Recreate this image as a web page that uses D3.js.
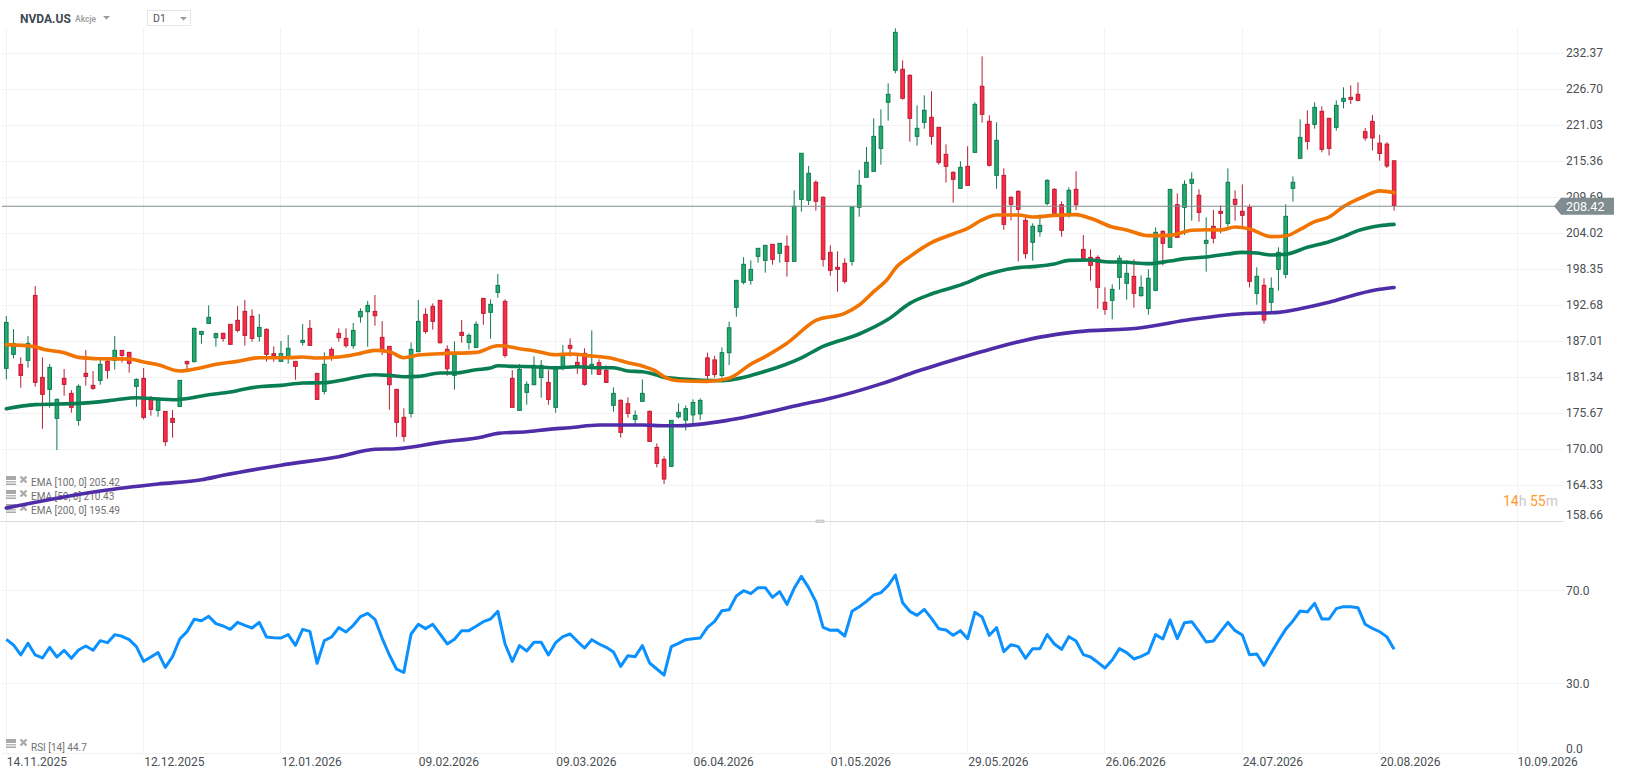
<!DOCTYPE html>
<html><head><meta charset="utf-8"><title>NVDA.US</title>
<script src="https://cdnjs.cloudflare.com/ajax/libs/d3/7.8.5/d3.min.js"></script>
<style>html,body{margin:0;padding:0;background:#fff;overflow:hidden}svg{display:block;font-family:Roboto,sans-serif}</style>
</head><body><svg id="c" width="1626" height="779"></svg>
<script>
const opens=[182.75,184.95,183.38,184.01,194.24,181.33,179.44,174.87,181.17,178.81,
174.56,181.96,180.07,180.86,183.85,184.01,185.58,185.27,179.91,181.17,
177.86,176.13,175.97,174.87,176.76,183.85,183.80,188.10,189.83,187.58,
188.26,189.68,190.31,191.72,190.94,187.79,188.89,185.06,183.85,184.32,
183.85,186.84,189.05,181.96,179.12,185.74,188.26,187.47,186.32,190.88,
191.67,191.72,187.63,186.21,179.44,175.03,175.66,185.37,191.25,192.51,
193.46,185.74,181.64,188.42,186.84,186.05,193.77,191.57,194.72,193.30,
181.17,176.13,178.97,180.17,181.33,180.54,176.61,182.90,186.37,183.69,
185.11,182.75,183.64,182.43,176.92,177.71,177.18,174.71,177.55,175.97,
170.30,168.41,167.31,175.13,174.60,175.42,175.58,184.40,184.08,181.62,
185.22,192.36,196.30,196.61,200.39,199.76,202.28,200.86,201.97,199.60,
209.37,209.21,212.05,209.69,201.02,198.66,199.29,199.60,208.11,212.84,
213.78,217.40,224.65,229.69,229.85,228.90,219.29,221.50,222.29,220.71,
216.46,213.62,211.10,214.57,216.77,227.17,221.66,213.15,213.15,209.69,
210.63,206.06,202.60,204.28,208.74,210.94,208.53,207.16,210.94,201.49,
200.23,200.23,193.15,193.46,197.08,196.14,197.24,194.20,192.20,195.04,
204.33,201.81,208.53,208.11,211.89,210.00,202.44,205.12,207.48,205.59,
209.37,207.48,208.11,194.56,195.82,193.15,198.34,197.56,211.10,215.83,
221.18,221.18,223.23,222.13,220.71,224.80,225.43,225.91,220.02,221.65,
218.22,218.06,215.44];
const highs=[190.99,188.94,184.48,187.84,195.71,184.48,183.43,178.02,182.64,179.33,
180.23,185.63,182.33,184.48,184.48,187.84,185.63,185.27,181.17,182.80,
178.39,178.23,175.97,176.18,180.86,183.90,189.15,188.57,192.67,188.36,
188.36,189.68,192.56,193.51,192.04,191.30,189.05,186.21,187.05,188.00,
183.85,189.73,190.36,181.96,185.27,186.05,189.05,189.05,189.89,192.20,
193.35,194.30,190.20,186.21,179.44,176.45,186.84,193.51,192.20,192.98,
193.46,186.37,187.00,190.36,188.26,190.15,193.77,193.61,197.61,193.61,
182.48,183.43,180.70,184.64,184.06,182.48,182.75,186.42,187.47,185.11,
185.90,188.73,184.16,183.22,179.75,177.86,178.18,176.13,181.01,176.13,
170.93,168.89,174.56,177.23,176.89,177.87,178.03,185.22,184.73,186.04,
190.12,196.61,200.24,199.76,201.65,202.12,202.28,202.44,203.70,210.79,
216.62,214.62,212.36,209.84,202.12,201.18,200.08,208.16,213.99,217.61,
222.13,223.54,227.64,236.30,231.26,229.06,224.18,225.75,226.38,220.71,
218.03,213.78,215.36,217.72,224.65,231.89,222.60,221.50,214.25,209.84,
210.79,206.64,205.59,207.01,212.52,211.15,209.05,211.26,213.78,203.75,
201.49,200.55,195.51,195.98,200.55,199.76,199.92,197.40,198.34,204.96,
204.49,210.94,210.31,212.36,213.62,210.94,206.54,207.69,208.42,214.25,
210.79,211.73,208.58,198.66,196.93,197.08,201.81,208.58,212.99,221.97,
223.39,224.65,224.02,222.13,224.96,227.01,227.32,227.80,220.60,222.64,
219.53,218.38,215.44];
const lows=[181.01,184.32,179.70,182.85,179.86,173.24,176.55,169.88,178.44,175.76,
173.72,180.02,179.39,180.17,181.12,182.54,183.69,182.06,176.71,174.71,
175.29,175.13,170.51,171.83,176.76,182.59,183.69,186.63,189.83,186.16,
186.95,186.53,188.42,186.32,186.95,186.95,183.80,183.80,183.80,183.48,
180.96,186.32,186.32,177.86,178.65,183.95,186.95,186.00,185.84,189.94,
186.16,189.47,184.85,176.24,171.98,171.20,174.98,185.37,188.21,188.84,
186.63,181.59,179.39,186.79,185.69,186.00,189.62,187.42,193.88,184.43,
176.61,176.13,177.02,180.17,178.13,177.02,175.76,182.43,184.59,181.85,
180.02,181.75,181.75,180.48,175.92,171.83,174.98,173.93,177.55,171.20,
167.15,164.53,167.26,174.87,172.97,173.78,174.60,181.13,181.30,181.30,
183.26,190.89,195.98,195.93,199.39,197.82,199.08,199.39,197.19,199.60,
207.43,208.48,207.59,198.77,197.35,194.83,196.09,198.92,206.64,212.84,
213.78,214.83,221.76,229.22,225.07,218.45,217.82,220.50,217.98,214.83,
212.00,208.85,211.10,211.57,216.77,221.45,214.52,211.05,204.59,206.06,
199.60,200.02,199.71,203.49,208.42,206.90,203.49,206.48,207.69,200.08,
196.56,192.15,191.20,190.47,195.14,193.57,192.31,194.04,191.20,194.88,
198.97,201.81,203.38,203.75,206.01,205.85,197.98,202.44,204.01,205.06,
206.01,204.80,195.51,192.78,189.79,191.68,194.98,196.93,209.00,215.83,
217.19,220.50,216.77,216.30,220.18,223.70,224.38,224.80,218.60,217.08,
215.44,214.30,207.60];
const closes=[189.99,186.68,181.64,186.68,180.54,178.65,182.90,177.86,180.23,176.61,
179.91,181.49,179.60,183.38,182.43,185.58,184.79,183.53,181.01,175.03,
176.29,177.86,171.20,174.24,180.86,183.48,189.05,188.57,190.78,188.21,
187.47,186.53,188.73,187.94,187.47,189.20,184.95,184.74,185.06,185.90,
183.06,187.16,186.37,177.86,183.38,184.74,187.58,186.32,188.73,191.72,
192.67,191.04,185.53,180.17,174.24,172.04,185.74,190.15,188.57,190.15,
186.79,182.69,184.95,187.94,187.94,189.68,191.41,192.83,195.82,184.79,
176.61,182.59,180.23,183.22,183.22,177.86,182.59,184.95,185.90,182.90,
180.23,183.38,181.80,180.54,178.81,172.67,175.66,175.34,178.81,171.25,
167.78,165.32,174.56,175.82,176.40,177.38,177.70,181.62,181.79,185.22,
189.14,196.61,199.13,198.34,201.65,202.12,199.92,202.44,199.60,208.27,
216.62,213.47,209.06,199.92,198.19,198.34,196.45,208.16,211.57,215.20,
219.29,220.87,225.91,235.67,225.28,222.13,220.55,223.39,219.29,215.20,
214.57,212.52,214.41,211.57,224.33,222.76,214.73,218.66,205.43,208.58,
207.80,200.81,205.12,205.27,212.36,207.16,204.49,210.79,208.53,200.08,
198.97,195.51,192.04,195.19,200.08,197.71,194.56,195.51,196.93,204.17,
202.44,210.94,203.38,211.73,212.52,207.32,202.91,203.23,207.16,212.05,
208.58,206.85,196.45,197.24,190.36,195.35,201.02,206.69,212.05,219.13,
218.50,223.86,217.24,217.40,224.17,225.28,225.12,224.96,219.04,219.04,
216.59,214.62,208.42];

const ema50Bars=[0,4,5,8,10,13,17,19,21,24,27,29,32,35,39,41,43,46,47,49,51,53,55,57,60,65,68,69,71,73,76,78,81,84,86,88,90,91,93,97,100,103,105,108,112,116,118,120,122,123,125,128,131,133,135,137,140,142,145,148,150,153,155,158,161,164,166,168,170,172,175,177,179,181,183,185,187,188,190,192];
const ema50=[186.48,186.16,185.79,185.21,184.48,184.27,184.22,183.74,183.32,182.33,182.85,183.38,183.85,184.43,184.43,184.53,184.37,184.53,184.69,185.11,185.58,185.37,184.43,184.85,185.06,185.27,186.32,186.26,185.84,185.53,184.90,185.00,184.69,184.27,183.64,183.12,182.22,181.43,180.80,180.70,181.20,183.40,184.60,186.70,190.30,191.42,192.73,194.83,196.93,198.50,200.34,202.55,203.91,204.80,206.12,206.90,206.90,206.59,206.85,206.96,206.38,205.01,204.54,203.65,203.70,204.49,204.59,204.54,205.01,204.70,203.49,203.59,204.64,205.85,206.59,208.22,209.40,209.90,210.70,210.43];
const ema100Bars=[0,4,10,12,15,18,21,23,26,28,31,33,35,38,41,44,46,51,53,55,57,60,62,65,67,68,70,73,76,79,82,84,86,88,90,91,93,99,105,110,113,118,122,125,128,131,133,135,137,140,142,145,147,150,152,155,158,161,163,166,169,171,173,175,177,180,183,185,187,190,192];
const ema100=[176.40,177.03,177.24,177.39,177.76,178.13,177.92,177.81,178.18,178.60,179.02,179.49,179.86,180.07,180.44,180.49,180.80,181.75,181.64,181.43,181.49,182.01,182.01,182.54,182.80,183.17,183.06,183.01,182.85,183.01,182.85,182.85,182.33,182.22,181.70,181.33,181.12,180.81,182.28,184.40,186.20,188.16,190.47,192.99,194.46,195.51,196.30,197.30,197.98,198.61,198.77,199.18,199.76,199.81,199.55,199.45,199.24,199.66,200.03,200.29,200.76,201.02,200.92,200.60,200.71,201.81,202.70,203.49,204.44,205.20,205.42];
const ema200Bars=[0,13,21,27,30,38,46,51,54,60,66,68,72,75,78,82,88,91,93,100,105,110,114,121,126,133,137,143,148,157,164,171,176,179,183,187,190,192];
const ema200=[160.75,163.43,164.53,165.20,165.90,167.50,168.84,170.00,170.09,171.09,171.99,172.51,172.77,173.14,173.40,173.82,173.82,173.72,173.72,174.60,175.74,177.05,178.03,180.30,182.28,184.73,186.04,187.67,188.50,189.14,190.47,191.36,191.57,192.15,193.15,194.46,195.20,195.49];
const rsi=[48.95,46.52,42.22,47.23,42.22,40.94,45.51,41.36,44.23,40.79,
44.37,46.09,44.23,48.38,47.52,50.95,50.24,48.81,45.80,39.50,
41.36,43.22,36.93,41.51,49.09,52.24,57.54,56.96,58.82,55.67,
54.67,53.24,56.25,54.96,53.81,56.25,49.95,49.66,49.52,50.95,
46.37,53.24,52.38,38.65,48.38,49.95,53.96,52.10,54.96,58.68,
60.11,57.54,49.38,42.22,36.10,34.70,51.24,55.39,53.53,55.39,
51.24,46.94,48.95,52.67,52.67,54.53,56.53,57.68,60.97,46.94,
39.50,46.23,43.94,47.66,47.66,42.22,47.52,50.09,51.24,48.09,
45.23,48.80,46.94,45.51,43.51,37.35,41.93,41.50,46.23,38.79,
36.21,33.60,45.80,47.23,48.80,49.23,49.52,54.10,56.67,61.25,
61.68,67.55,69.84,68.55,71.13,71.13,66.98,69.41,63.97,70.84,
75.99,71.13,65.12,54.10,52.81,52.95,50.38,60.97,62.97,65.26,
67.98,68.98,71.98,76.56,64.69,60.97,59.25,61.83,57.96,53.52,
52.95,50.66,52.67,49.23,60.54,58.53,50.66,53.95,43.65,46.66,
45.80,40.79,44.94,44.94,50.95,46.94,44.65,50.09,48.23,42.36,
41.36,39.07,36.64,40.07,44.94,43.22,40.50,41.65,43.08,50.95,
49.09,57.25,49.23,56.10,56.53,52.38,47.80,48.23,52.24,56.24,
52.67,50.81,42.36,42.65,37.78,43.22,48.37,53.24,56.82,61.11,
60.68,64.40,57.68,57.68,62.11,62.97,62.97,62.54,55.40,53.60,
52.20,50.00,44.70];

const dateTicks=["14.11.2025","12.12.2025","12.01.2026","09.02.2026","09.03.2026","06.04.2026","01.05.2026","29.05.2026","26.06.2026","24.07.2026","20.08.2026","10.09.2026"];
const barsPerDateTick=19;
const priceTicks=[232.37,226.70,221.03,215.36,209.69,204.02,198.35,192.68,187.01,181.34,175.67,170.00,164.33,158.66];
const rsiTicks=[70,30,0];
const lastPriceLabel="208.42";
const lastPriceLevel=208.28;
const legendPrice=["EMA [100, 0] 205.42","EMA [50, 0] 210.43","EMA [200, 0] 195.49"];
const legendRsi="RSI [14] 44.7";

const svg=d3.select("#c");
const x=d3.scaleLinear().domain([0,209]).range([6.3,1517]);
const y=d3.scaleLinear().domain([232.37,158.66]).range([53.3,521.3]);
const yR=d3.scaleLinear().domain([70,0]).range([590.3,753.3]);
const tickBars=dateTicks.map((d,i)=>i*barsPerDateTick);
const GRID="#f3f3f3",AX="#4a4f54";

// grid
const grid=svg.append("g").attr("shape-rendering","crispEdges").attr("stroke",GRID).attr("stroke-width",1);
grid.selectAll(".v").data(tickBars).join("line").attr("x1",d=>Math.floor(x(d))+.5).attr("x2",d=>Math.floor(x(d))+.5).attr("y1",28).attr("y2",753.5);
grid.selectAll(".h").data(priceTicks.slice(0,-1)).join("line").attr("x1",2).attr("x2",1564).attr("y1",d=>Math.floor(y(d))+.5).attr("y2",d=>Math.floor(y(d))+.5);
grid.selectAll(".r").data(rsiTicks).join("line").attr("x1",2).attr("x2",1564).attr("y1",d=>Math.floor(yR(d))+.5).attr("y2",d=>Math.floor(yR(d))+.5);

// pane separator
svg.append("line").attr("x1",0).attr("x2",1564).attr("y1",521.5).attr("y2",521.5).attr("stroke","#dcdcdc").attr("shape-rendering","crispEdges");
svg.append("rect").attr("x",816).attr("y",520).attr("width",8).attr("height",2.5).attr("fill","#d8d8d8").attr("stroke","#bdbdbd").attr("stroke-width",.6);

// legends (under marks)
function legendIcons(g,cy){
  g.append("rect").attr("x",6).attr("y",cy-5).attr("width",10).attr("height",4).attr("fill","#a8a8a8");
  g.append("rect").attr("x",6).attr("y",cy).attr("width",10).attr("height",1.5).attr("fill","#b8b8b8");
  g.append("rect").attr("x",6).attr("y",cy+2.5).attr("width",10).attr("height",1.5).attr("fill","#a8a8a8");
  g.append("path").attr("d",`M20.5 ${cy-4.5}L26.5 ${cy+1.5}M26.5 ${cy-4.5}L20.5 ${cy+1.5}`).attr("stroke","#aaa").attr("stroke-width",2.4).attr("fill","none");
}
const lg=svg.append("g");
legendPrice.forEach((t,i)=>{
  const cy=482+i*14;
  legendIcons(lg,cy-1);
  lg.append("text").attr("x",31).attr("y",cy).attr("dy",".35em").attr("font-size",10).attr("fill","#707070").text(t);
});
legendIcons(lg,744);
lg.append("text").attr("x",31).attr("y",747).attr("dy",".35em").attr("font-size",10).attr("fill","#707070").text(legendRsi);

// candles
const bars=d3.range(opens.length);
const up=i=>closes[i]>=opens[i];
const GF="#24ab70",GS="#0e7a50",RF="#fd2b45",RS="#b81d33";
const cg=svg.append("g");
cg.selectAll(".w").data(bars).join("line")
  .attr("x1",i=>x(i)).attr("x2",i=>x(i)).attr("y1",i=>y(highs[i])).attr("y2",i=>y(lows[i]))
  .attr("stroke",i=>up(i)?GS:RS).attr("stroke-width",1);
cg.selectAll(".b").data(bars).join("rect")
  .attr("x",i=>x(i)-1.8).attr("width",3.6)
  .attr("y",i=>y(Math.max(opens[i],closes[i])))
  .attr("height",i=>Math.max(1,Math.abs(y(opens[i])-y(closes[i]))))
  .attr("fill",i=>up(i)?GF:RF).attr("stroke",i=>up(i)?GS:RS).attr("stroke-width",1);

// EMA
function ema(bars,vals,col){
  const l=d3.line().x(i=>x(bars[i])).y(i=>y(vals[i])).curve(d3.curveMonotoneX);
  svg.append("path").attr("d",l(d3.range(bars.length))).attr("fill","none").attr("stroke",col).attr("stroke-width",3.6).attr("stroke-linejoin","round").attr("stroke-linecap","round");
}
ema(ema200Bars,ema200,"#4f2ca8");
ema(ema100Bars,ema100,"#0a7e53");
ema(ema50Bars,ema50,"#f17300");

// last price line & tag
svg.append("line").attr("x1",2).attr("x2",1556).attr("y1",y(lastPriceLevel)).attr("y2",y(lastPriceLevel)).attr("stroke","#7f8c90").attr("stroke-width",1.2);

// RSI
const rl=d3.line().x((d,i)=>x(i)).y(d=>yR(d));
svg.append("path").attr("d",rl(rsi)).attr("fill","none").attr("stroke","#0a90ff").attr("stroke-width",3).attr("stroke-linejoin","round");

// axes
const styleAxis=g=>{g.select(".domain").remove();g.attr("font-family","Roboto,sans-serif").attr("font-size",12);g.selectAll("text").attr("fill",AX);};
const pa=svg.append("g").attr("transform","translate(1566,-0.8)")
  .call(d3.axisRight(y).tickValues(priceTicks).tickSize(0).tickPadding(0).tickFormat(d3.format(".2f"))).call(styleAxis);
pa.selectAll("text").filter(d=>d===158.66).attr("y",-5.5);
const ra=svg.append("g").attr("transform","translate(1566,0)")
  .call(d3.axisRight(yR).tickValues(rsiTicks).tickSize(0).tickPadding(0).tickFormat(d3.format(".1f"))).call(styleAxis);
ra.selectAll("text").filter(d=>d===0).attr("y",-5);
const xa=svg.append("g").attr("transform","translate(0,757.5)")
  .call(d3.axisBottom(x).tickValues(tickBars).tickSize(0).tickPadding(0).tickFormat((d,i)=>dateTicks[i])).call(styleAxis);
xa.selectAll("text").attr("text-anchor","start");

// price tag
const ty=y(lastPriceLevel);
svg.append("path").attr("d",`M1554 ${ty}L1561 ${ty-8.5}H1614V${ty+8.5}H1561Z`).attr("fill","#7f8d90");
svg.append("text").attr("x",1566).attr("y",ty).attr("dy",".35em").attr("font-size",12.5).attr("fill","#fff").text(lastPriceLabel);

// countdown
const cd=svg.append("text").attr("x",1503).attr("y",501).attr("dy",".35em").attr("font-size",14);
[["14","#ff9a2e"],["h ","#c9c9c9"],["55","#ff9a2e"],["m","#c9c9c9"]].forEach(p=>cd.append("tspan").attr("fill",p[1]).text(p[0]));

// header
svg.append("text").attr("x",20).attr("y",19).attr("dy",".35em").attr("font-size",12).attr("font-weight",700).attr("fill","#3e4852").text("NVDA.US");
svg.append("text").attr("x",75).attr("y",19.5).attr("dy",".35em").attr("font-size",8.5).attr("font-weight",500).attr("fill","#9a9a9a").text("Akcje");
svg.append("path").attr("d","M103 16H110L106.5 19.5Z").attr("fill","#9a9a9a");
svg.append("rect").attr("x",147.5).attr("y",10.5).attr("width",43).attr("height",15).attr("fill","#fff").attr("stroke","#e6e6e6");
svg.append("text").attr("x",153).attr("y",18.5).attr("dy",".35em").attr("font-size",10.5).attr("fill","#555").text("D1");
svg.append("path").attr("d","M180 17H187L183.5 20.5Z").attr("fill","#9a9a9a");
</script></body></html>
